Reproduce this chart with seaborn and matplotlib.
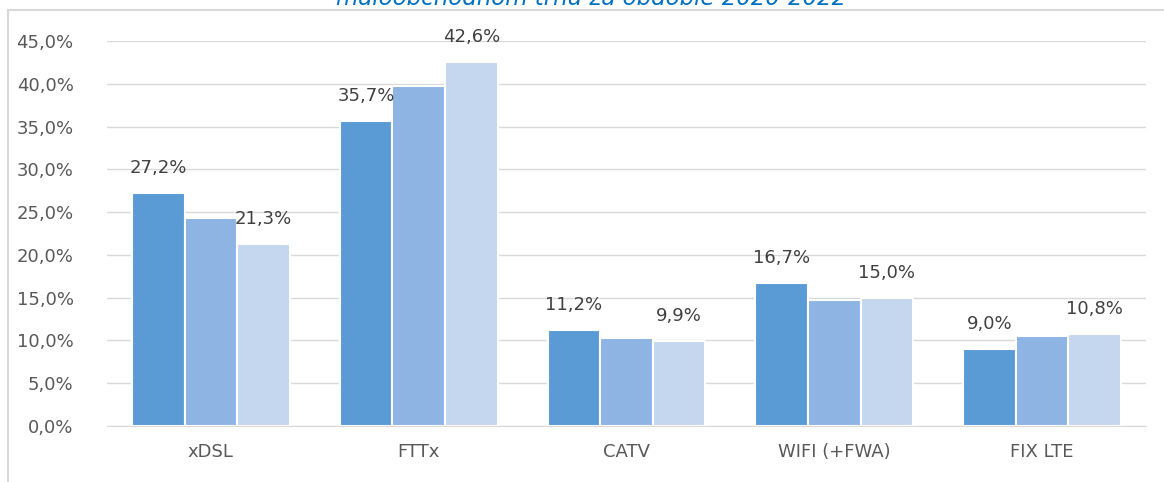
import pandas as pd
import matplotlib.pyplot as plt
import seaborn as sns
from matplotlib.lines import Line2D

# data
categories = ["xDSL", "FTTx", "CATV", "WIFI (+FWA)", "FIX LTE"]
years = ["2020", "2021", "2022"]
share_2020 = [27.2, 35.7, 11.2, 16.7, 9.0]
share_2021 = [24.3, 39.7, 10.3, 14.7, 10.5]
share_2022 = [21.3, 42.6, 9.9, 15.0, 10.8]
ytick_vals = [0, 5, 10, 15, 20, 25, 30, 35, 40, 45]

df = pd.DataFrame({
    "Technology": categories * 3,
    "Year": [years[0]] * 5 + [years[1]] * 5 + [years[2]] * 5,
    "Share": share_2020 + share_2021 + share_2022,
})

sns.set_style("white")
plt.rcParams["font.family"] = ["DejaVu Sans"]

fig = plt.figure(figsize=(11.64, 4.82), dpi=100)
ax = fig.add_axes([107 / 1164, 56 / 482, (1146 - 107) / 1164, (426 - 41) / 482])

colors = ["#5B9BD5", "#8EB4E3", "#C5D7EE"]
sns.barplot(data=df, x="Technology", y="Share", hue="Year", palette=colors,
            saturation=1, width=0.76, edgecolor="white", linewidth=1.5, ax=ax)

ax.set_ylim(0, 45)
ax.set_xlim(-0.5, 4.5)
ax.set_yticks(ytick_vals)
ax.set_yticklabels([f"{v:.1f}".replace(".", ",") + "%" for v in ytick_vals],
                   fontsize=13, color="#595959")
ax.tick_params(axis="x", labelsize=13, labelcolor="#595959", length=0, pad=12)
ax.tick_params(axis="y", length=0, pad=24)
ax.set_xlabel("")
ax.set_ylabel("")
ax.yaxis.grid(True, color="#D9D9D9", linewidth=1)
ax.set_axisbelow(True)
for s in ["top", "right", "left"]:
    ax.spines[s].set_visible(False)
ax.spines["bottom"].set_color("#D9D9D9")
ax.legend_.remove()

# value labels only for first and last year
for idx in [0, 2]:
    for bar in ax.containers[idx]:
        h = bar.get_height()
        ax.annotate(f"{h:.1f}".replace(".", ",") + "%",
                    (bar.get_x() + bar.get_width() / 2, h),
                    xytext=(0, 18), textcoords="offset points",
                    ha="center", va="center", fontsize=13, color="#404040")

# frame and title (cut off at the top, as in the source)
fig.add_artist(Line2D([8 / 1164, 8 / 1164], [0, 1 - 10 / 482], color="#D9D9D9", linewidth=1.5))
fig.add_artist(Line2D([8 / 1164, 1], [1 - 10 / 482, 1 - 10 / 482], color="#D9D9D9", linewidth=1.5))
fig.text(591 / 1164, 1 - 5 / 482, "maloobchodnom trhu za obdobie 2020-2022",
         ha="center", va="baseline", fontsize=16.5, style="italic", color="#0070C0")

fig.savefig("out.png", dpi=100)
